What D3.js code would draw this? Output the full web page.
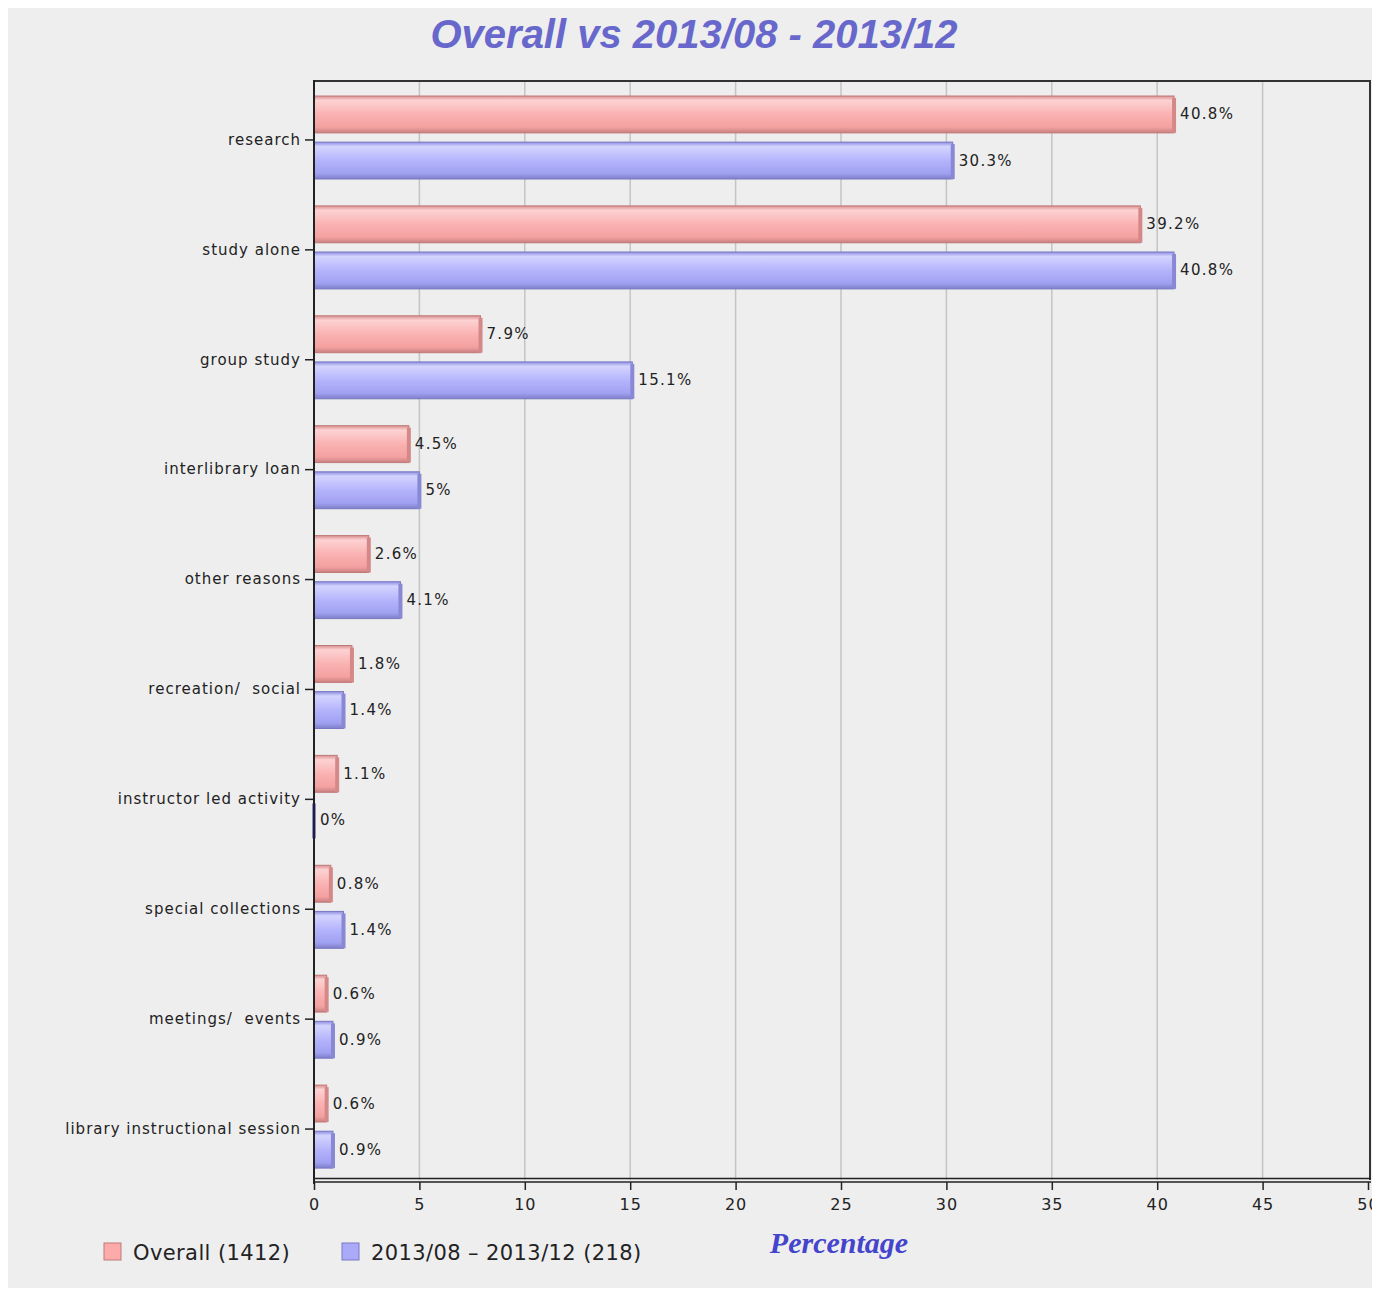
<!DOCTYPE html>
<html>
<head>
<meta charset="utf-8">
<script src="https://cdn.jsdelivr.net/npm/d3@7"></script>
<style>
  body { margin: 0; background: #fff; }
  svg text { font-family: "DejaVu Sans", sans-serif; }
</style>
</head>
<body>
<svg id="chart" width="1381" height="1290"></svg>
<script>
const categories = [
  "research", "study alone", "group study", "interlibrary loan", "other reasons",
  "recreation/  social", "instructor led activity", "special collections",
  "meetings/  events", "library instructional session"
];
const seriesNames = ["Overall (1412)", "2013/08 \u2013 2013/12 (218)"];
const overallValues = [40.8, 39.2, 7.9, 4.5, 2.6, 1.8, 1.1, 0.8, 0.6, 0.6];
const periodValues = [30.3, 40.8, 15.1, 5, 4.1, 1.4, 0, 1.4, 0.9, 0.9];
const xTicks = [0, 5, 10, 15, 20, 25, 30, 35, 40, 45, 50];

const svg = d3.select("#chart");

// grey panel
svg.append("rect").attr("x", 8).attr("y", 8).attr("width", 1364).attr("height", 1280).attr("fill", "#eeeeee");

const plot = { left: 314, right: 1368, top: 80, bottom: 1180 };
const x = d3.scaleLinear().domain([0, 50]).range([plot.left, plot.right]);
const y = d3.scaleBand().domain(categories).range([85, 1184]);
const inner = d3.scaleBand().domain([0, 1]).range([11, 94]).paddingInner(0.2);

// gradients
const defs = svg.append("defs");
const palettes = [
  { edge: "#c07878", stops: ["#d99090", "#fdd2d2", "#fab2b2", "#f4a0a0", "#c88080"], side: "#d48888" },
  { edge: "#7878c4", stops: ["#8e8ee0", "#d4d4ff", "#b4b4fc", "#a0a0f2", "#7e7ec8"], side: "#8888d4" }
];
palettes.forEach((p, i) => {
  const g = defs.append("linearGradient").attr("id", "grad" + i)
    .attr("x1", 0).attr("y1", 0).attr("x2", 0).attr("y2", 1);
  [0, 0.12, 0.5, 0.85, 1].forEach((o, k) => g.append("stop").attr("offset", o).attr("stop-color", p.stops[k]));
});

// title
svg.append("text").attr("x", 694).attr("y", 48).attr("text-anchor", "middle")
  .style("font-family", "'Liberation Sans', Arial, sans-serif")
  .style("font-size", "40px").style("font-weight", "bold").style("font-style", "italic")
  .attr("fill", "#6868cc").text("Overall vs 2013/08 - 2013/12");

// grid
svg.append("g").selectAll("line").data(xTicks.filter(t => t > 0 && t < 50)).join("line")
  .attr("x1", d => x(d)).attr("x2", d => x(d))
  .attr("y1", plot.top + 2).attr("y2", plot.bottom)
  .attr("stroke", "#c4c4c4").attr("stroke-width", 1.5);

// frame (top, right)
svg.append("path")
  .attr("d", `M${plot.left},${plot.bottom} L${plot.left},${plot.top + 1} L${plot.right + 2},${plot.top + 1} L${plot.right + 2},${plot.bottom}`)
  .attr("fill", "none").attr("stroke", "#333").attr("stroke-width", 2);

// bars
const series = [overallValues, periodValues];
series.forEach((vals, s) => {
  const p = palettes[s];
  const g = svg.append("g");
  const rows = g.selectAll("g").data(categories.map((c, i) => ({ c, v: vals[i] }))).join("g")
    .attr("transform", d => `translate(0,${y(d.c) + inner(s)})`);
  const bh = inner.bandwidth();
  rows.append("rect")
    .attr("x", x(0)).attr("y", 0)
    .attr("width", d => Math.max(0, x(d.v) - x(0)))
    .attr("height", bh)
    .attr("fill", `url(#grad${s})`)
    .attr("stroke", p.edge).attr("stroke-width", 1);
  rows.append("rect")
    .attr("x", d => x(d.v) - 2).attr("y", 2)
    .attr("width", 4).attr("height", bh - 2)
    .attr("fill", p.side);
  rows.append("text")
    .attr("x", d => x(d.v) + 6).attr("y", bh / 2 + 5)
    .style("font-size", "15px").style("letter-spacing", "1.3px").attr("fill", "#222")
    .text(d => d.v + "%");
});

// left axis
const yAxis = d3.axisLeft(y).tickSize(9).tickPadding(4);
const ya = svg.append("g").attr("transform", `translate(${plot.left},0)`).call(yAxis);
ya.select(".domain").attr("d", `M0,${plot.top}V${plot.bottom + 4}`).attr("stroke", "#222").attr("stroke-width", 2);
ya.selectAll(".tick line").attr("stroke", "#222").attr("stroke-width", 1.5);
ya.selectAll(".tick text").style("font-size", "15px").style("letter-spacing", "1px").attr("fill", "#222")
  .attr("xml:space", "preserve").style("white-space", "pre");

// bottom axis
const xAxis = d3.axisBottom(x).tickValues(xTicks).tickSize(8).tickPadding(9).tickFormat(d3.format("d"));
const xa = svg.append("g").attr("transform", `translate(0,${plot.bottom + 2})`).call(xAxis);
xa.select(".domain").remove();
xa.selectAll(".tick line").attr("stroke", "#222").attr("stroke-width", 1.5);
xa.selectAll(".tick text").style("font-size", "16px").style("letter-spacing", "1px").attr("fill", "#222");
svg.append("line").attr("x1", plot.left).attr("x2", plot.right + 3).attr("y1", plot.bottom - 1.5).attr("y2", plot.bottom - 1.5)
  .attr("stroke", "#222").attr("stroke-width", 1.5);
svg.append("line").attr("x1", plot.left).attr("x2", plot.right + 3).attr("y1", plot.bottom + 2).attr("y2", plot.bottom + 2)
  .attr("stroke", "#222").attr("stroke-width", 1.5);

// axis title
svg.append("text").attr("x", 839).attr("y", 1253).attr("text-anchor", "middle")
  .style("font-family", "'Liberation Serif', 'Times New Roman', serif")
  .style("font-size", "30px").style("font-weight", "bold").style("font-style", "italic")
  .attr("fill", "#4444cc").text("Percentage");

// legend
const legendX = [104, 342];
const lg = svg.append("g").selectAll("g").data(seriesNames).join("g")
  .attr("transform", (d, i) => `translate(${legendX[i]},1243)`);
lg.append("rect").attr("width", 17).attr("height", 17)
  .attr("fill", (d, i) => i === 0 ? "#fcaaaa" : "#aaaaf8")
  .attr("stroke", (d, i) => palettes[i].edge).attr("stroke-width", 1);
lg.append("text").attr("x", 29).attr("y", 17)
  .style("font-size", "21px").style("letter-spacing", "0.4px").attr("fill", "#222").text(d => d);

// panel edge clips the last tick label
svg.append("rect").attr("x", 1372).attr("y", 0).attr("width", 9).attr("height", 1290).attr("fill", "#fff");
</script>
</body>
</html>
